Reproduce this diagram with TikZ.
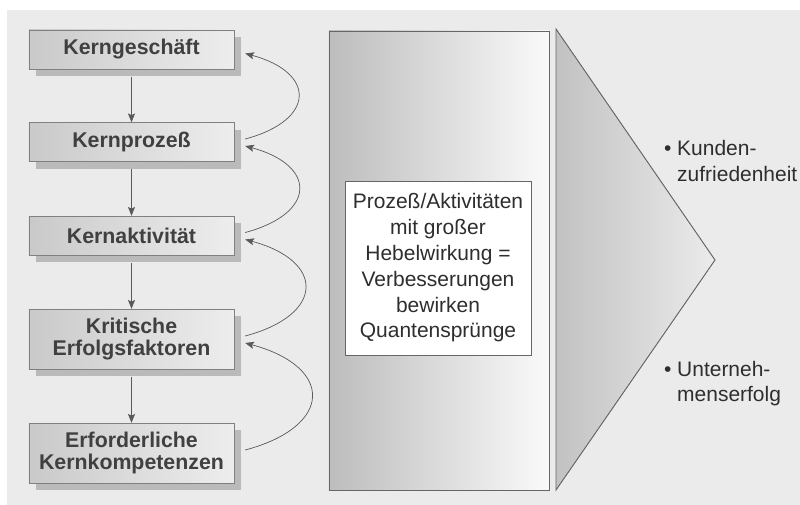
\documentclass[tikz,border=0pt]{standalone}
\usepackage{fontspec}
\setmainfont{Liberation Sans}
\usepackage{tikz}
\usetikzlibrary{calc, shadows, arrows.meta}

\definecolor{grund}{HTML}{EBEBEB}
\definecolor{schrift}{HTML}{404040}

\begin{document}
\begin{tikzpicture}[x=0.03cm, y=0.03cm,
    stufe/.style={draw=black!50, left color=black!21, right color=black!7, text=schrift,
        font=\bfseries\fontsize{18.2}{19.5}\selectfont, align=center, inner sep=0pt,
        minimum width=6.15cm, minimum height=1.17cm,
        general shadow={shadow xshift=0.21cm, shadow yshift=-0.21cm, fill=black!27}},
    pfeil/.style={-{Stealth[length=7.5pt, width=6pt, inset=1.5pt]}, draw=black!65, line width=0.6pt},
    text13/.style={font=\fontsize{17.9}{22}\selectfont, text=black!82}]
                        \useasboundingbox (0,0) rectangle (800,-505);
                        \fill[grund] (7,-10) rectangle (800,-505);
                        \node[stufe] (kg) at (131.5,-49.5) {Kerngeschäft};
                        \node[stufe] (kp) at (131.5,-142) {Kernprozeß};
                        \node[stufe] (ka) at (131.5,-235.5) {Kernaktivität};
                        \node[stufe, minimum height=1.8cm] (kef) at (131.5,-339) {Kritische\\Erfolgsfaktoren};
                        \node[stufe, minimum height=1.8cm] (kk) at (131.5,-453) {Erforderliche\\Kernkompetenzen};
                        \foreach \a/\b in {kg/kp, kp/ka, ka/kef, kef/kk}
                            \draw[pfeil, shorten <=0.22cm] (\a) -- (\b);
                        \foreach \a/\b in {kp/kg, ka/kp, kef/ka, kk/kef}
                            \draw[pfeil] ($(\a.east)+(11,3)$) to[out=15, in=-15, looseness=2.2] ($(\b.east)+(11,-4)$);
                        \node[draw=black!60, line width=0.8pt, left color=black!26, right color=black!2,
                            minimum width=6.6cm, minimum height=13.77cm] (hebel) at (439,-260.5) {};
                        \node[draw=black!60, fill=white, text13, align=center, inner sep=0pt,
                            minimum width=5.58cm, minimum height=5.22cm] (kern) at (438,-268)
                            {Prozeß/Aktivitäten\\mit großer\\Hebelwirkung =\\Verbesserungen\\bewirken\\Quantensprünge};
                        \filldraw[draw=black!60, line width=0.8pt, left color=black!24, right color=grund]
                            (556,-29) -- (556,-490) -- (715,-260) -- cycle;
                        \node[text13, anchor=west, align=left, inner sep=0pt] (kunden) at (677,-161)
                            {\llap{\textbullet\ }Kunden-\\zufriedenheit};
                        \node[text13, anchor=west, align=left, inner sep=0pt] (erfolg) at (677,-383.5)
                            {\llap{\textbullet\ }Unterneh-\\menserfolg};
\end{tikzpicture}
\end{document}
